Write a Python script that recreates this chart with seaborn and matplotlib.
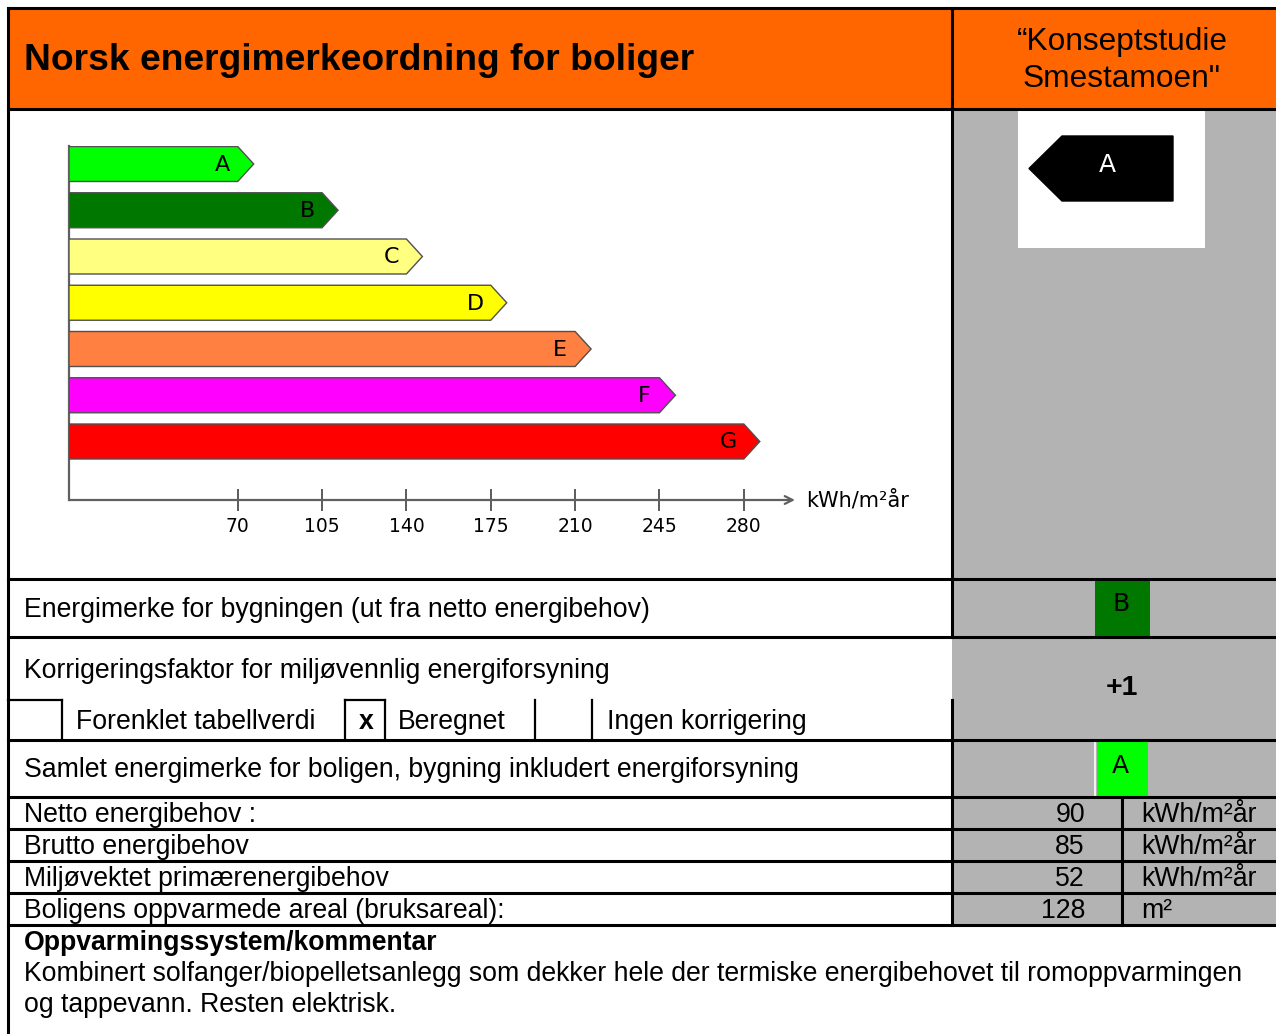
import matplotlib
matplotlib.use("Agg")
import matplotlib.pyplot as plt
from matplotlib.patches import Polygon, Rectangle
import seaborn as sns
import pandas as pd

# ---------------- data ----------------
classes = ["A", "B", "C", "D", "E", "F", "G"]
upper_limits = [70, 105, 140, 175, 210, 245, 280]
class_colors = ["#00FF00", "#007800", "#FFFF80", "#FFFF00", "#FF8040", "#FF00FF", "#FF0000"]
tick_values = [70, 105, 140, 175, 210, 245, 280]
axis_unit = "kWh/m²år"

title = "Norsk energimerkeordning for boliger"
project = ["“Konseptstudie", "Smestamoen\""]
result_class = "A"
building_class = "B"
correction = "+1"
total_class = "A"

row_labels = ["Netto energibehov :", "Brutto energibehov",
              "Miljøvektet primærenergibehov", "Boligens oppvarmede areal (bruksareal):"]
row_values = [90, 85, 52, 128]
row_units = ["kWh/m²år", "kWh/m²år", "kWh/m²år", "m²"]
comment_head = "Oppvarmingssystem/kommentar"
comment_lines = ["Kombinert solfanger/biopelletsanlegg som dekker hele der termiske energibehovet til romoppvarmingen",
                 "og tappevann. Resten elektrisk."]

# ---------------- style ----------------
sns.set_style("white")
plt.rcParams["font.family"] = ["Liberation Sans", "DejaVu Sans"]
plt.rcParams["text.color"] = "black"
plt.rcParams["xtick.color"] = "black"
plt.rcParams["xtick.labelcolor"] = "black"

W, H = 1276, 1034
fig = plt.figure(figsize=(W / 100, H / 100), dpi=100)
fig.patch.set_facecolor("white")

# frame axes in pixel coordinates
fr = fig.add_axes([0, 0, 1, 1])
fr.set_xlim(0, W)
fr.set_ylim(H, 0)
fr.axis("off")

ORANGE = "#FF6600"
GRAY = "#B3B3B3"
LW = 2.2
LW2 = 1.6
DY = 2  # vertical text nudge

def rect(x0, y0, x1, y1, color, z=1):
    fr.add_patch(Rectangle((x0, y0), x1 - x0, y1 - y0, facecolor=color, edgecolor="none", zorder=z))

def hline(y, x0, x1, lw=LW, color="black"):
    fr.plot([x0, x1], [y, y], color=color, lw=lw, solid_capstyle="projecting", zorder=5)

def vline(x, y0, y1, lw=LW, color="black"):
    fr.plot([x, x], [y0, y1], color=color, lw=lw, solid_capstyle="projecting", zorder=5)

def txt(x, y, s, **kw):
    kw.setdefault("va", "center")
    kw.setdefault("zorder", 6)
    kw.setdefault("color", "black")
    fr.text(x, y + DY, s, **kw)

# fills
rect(8, 8, W, 109, ORANGE)
rect(952, 109, W, 925, GRAY)
rect(1018, 109, 1205, 248, "white", z=2)
rect(1095, 579, 1150, 637, "#007800", z=2)
rect(1097, 740, 1148, 797, "#00FF00", z=2)
vline(1095, 741, 796, lw=1.2, color="white")

# lines
for y in [8, 109, 579, 637, 740, 797, 829, 861, 893, 925]:
    hline(y, 8, W)
vline(8, 8, H)
vline(952, 8, 637)
vline(952, 700, 925)
vline(1122, 797, 925)
hline(700, 8, 62, lw=LW2)
hline(700, 345, 385, lw=LW2)
for x in [62, 345, 385, 535, 592]:
    vline(x, 700, 740, lw=LW2)

# result badge (pointing left)
bx0, bx1, by0, by1, tip = 1029, 1173, 136, 201, 33
fr.add_patch(Polygon([(bx0, (by0 + by1) / 2), (bx0 + tip, by0), (bx1, by0), (bx1, by1), (bx0 + tip, by1)],
                     closed=True, facecolor="black", edgecolor="black", zorder=3))
txt(1107, 163, result_class, color="white", fontsize=18, family="DejaVu Sans", ha="center")

# texts
BODY = 19.2
txt(24, 58, title, fontsize=26.8, fontweight="bold", ha="left")
txt(1122, 40, project[0], fontsize=22.8, ha="center")
txt(1122, 77, project[1], fontsize=22.8, ha="center")

txt(24, 608, "Energimerke for bygningen (ut fra netto energibehov)", fontsize=BODY, ha="left")
txt(1121, 602, building_class, fontsize=18, family="DejaVu Sans", ha="center")

txt(24, 669, "Korrigeringsfaktor for miljøvennlig energiforsyning", fontsize=BODY, ha="left")
txt(1122, 686, correction, fontsize=20.5, fontweight="bold", ha="center")
txt(76, 720, "Forenklet tabellverdi", fontsize=BODY, ha="left")
txt(366, 720, "x", fontsize=BODY, fontweight="bold", ha="center")
txt(398, 720, "Beregnet", fontsize=BODY, ha="left")
txt(607, 720, "Ingen korrigering", fontsize=BODY, ha="left")

txt(24, 768, "Samlet energimerke for boligen, bygning inkludert energiforsyning", fontsize=BODY, ha="left")
txt(1120, 764, total_class, fontsize=18, family="DejaVu Sans", ha="center")

for i, (lab, val, unit) in enumerate(zip(row_labels, row_values, row_units)):
    yc = 813 + 32 * i
    txt(24, yc, lab, fontsize=BODY, ha="left")
    txt(1085, yc, str(val), fontsize=BODY, ha="right")
    txt(1141, yc, unit, fontsize=BODY, ha="left")

txt(24, 941, comment_head, fontsize=BODY, fontweight="bold", ha="left")
for i, line in enumerate(comment_lines):
    txt(24, 972 + 31 * i, line, fontsize=BODY, ha="left")

# ---------------- bar chart ----------------
px_per_unit = 2.41
x_left_px, x_right_px = 69, 795
y_top_px, y_bot_px = 146, 500
first_center_px, step_px = 164, 46.25

axc = fig.add_axes([x_left_px / W, 1 - y_bot_px / H, (x_right_px - x_left_px) / W, (y_bot_px - y_top_px) / H])
axc.patch.set_alpha(0)
df = pd.DataFrame({"cls": classes, "limit": upper_limits})
sns.barplot(data=df, x="limit", y="cls", hue="cls", palette=class_colors, legend=False,
            orient="h", width=35 / step_px, saturation=1, ax=axc)
axc.set_xlim(0, (x_right_px - x_left_px) / px_per_unit)
axc.set_ylim((y_bot_px - first_center_px) / step_px, (y_top_px - first_center_px) / step_px)

tip_w = 16 / px_per_unit
for p, c, cls in zip(list(axc.patches), class_colors, classes):
    x0, y0, w, h = p.get_x(), p.get_y(), p.get_width(), p.get_height()
    p.set_visible(False)
    ym = y0 + h / 2
    axc.add_patch(Polygon([(x0, y0), (x0 + w, y0), (x0 + w + tip_w, ym), (x0 + w, y0 + h), (x0, y0 + h)],
                          closed=True, facecolor=c, edgecolor="#505050", lw=1.0, zorder=3))
    axc.text(x0 + w - 6.2, ym + 0.02, cls, fontsize=16, family="DejaVu Sans", ha="center", va="center",
             color="black", zorder=4)

axc.set_ylabel("")
axc.set_xlabel("")
axc.set_yticks([])
axc.set_xticks(tick_values)
axc.set_xticklabels([str(t) for t in tick_values], family="DejaVu Sans", fontsize=13.5, color="black")
axc.tick_params(axis="x", direction="inout", length=16, width=1.2, color="#404040", pad=4, bottom=True)
for s in ["top", "right", "bottom"]:
    axc.spines[s].set_visible(False)
axc.spines["left"].set_color("#606060")
axc.spines["left"].set_linewidth(1.6)
axc.annotate("", xy=(1, 0), xytext=(0, 0), xycoords="axes fraction", textcoords="axes fraction",
             arrowprops=dict(arrowstyle="->", color="#606060", lw=1.6, shrinkA=0, shrinkB=0,
                             mutation_scale=14), annotation_clip=False)
axc.text(1.015, 0, axis_unit, transform=axc.transAxes, fontsize=15, family="DejaVu Sans",
         ha="left", va="center", color="black")

fig.savefig("out.png", dpi=100)
